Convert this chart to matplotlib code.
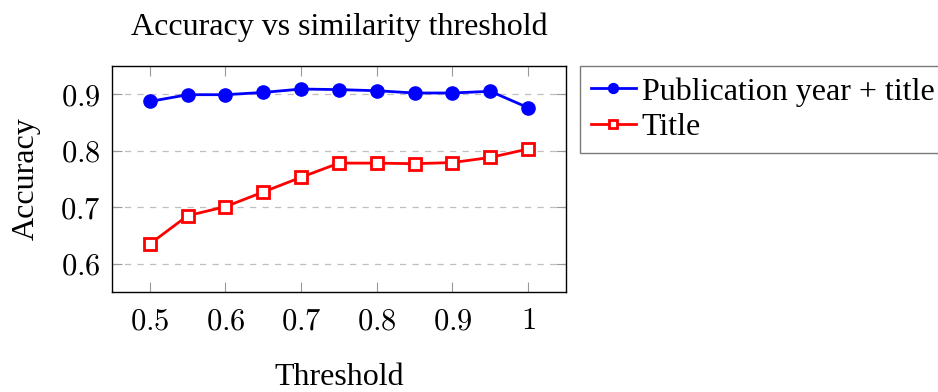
import matplotlib

matplotlib.use("Agg")
import matplotlib.pyplot as plt

thresholds = [0.5, 0.55, 0.6, 0.65, 0.7, 0.75, 0.8, 0.85, 0.9, 0.95, 1.0]
acc_year_title = [0.887, 0.899, 0.899, 0.903, 0.909, 0.908, 0.906, 0.902, 0.902, 0.905, 0.876]
acc_title = [0.635, 0.685, 0.701, 0.727, 0.753, 0.778, 0.778, 0.777, 0.779, 0.788, 0.803]
xticks = [0.5, 0.6, 0.7, 0.8, 0.9, 1.0]
xtick_labels = ["0.5", "0.6", "0.7", "0.8", "0.9", "1"]
yticks = [0.6, 0.7, 0.8, 0.9]
ytick_labels = ["0.6", "0.7", "0.8", "0.9"]

plt.rcParams["font.family"] = ["Liberation Serif", "DejaVu Serif"]
plt.rcParams["mathtext.fontset"] = "cm"

fig = plt.figure(figsize=(9.38, 3.92), dpi=100)
ax = fig.add_axes([0.1194, 0.255, 0.484, 0.577])

ax.plot(thresholds, acc_year_title, color="blue", lw=2.0, marker="o", ms=9.5,
        label="Publication year + title", zorder=3)
ax.plot(thresholds, acc_title, color="red", lw=2.0, marker="s", ms=8.5,
        mfc="white", mew=2.0, label="Title", zorder=3)

ax.set_xlim(0.45, 1.05)
ax.set_ylim(0.55, 0.95)
ax.set_xticks(xticks)
ax.set_xticklabels([f"${t}$" for t in xtick_labels])
ax.set_yticks(yticks)
ax.set_yticklabels([f"${t}$" for t in ytick_labels])
ax.tick_params(direction="in", top=True, right=True, length=7, width=0.8,
               color="0.6", labelsize=22, pad=11)
ax.tick_params(axis="y", pad=8)
ax.grid(axis="y", color="0.75", linestyle=(0, (5, 5)), lw=0.9)
for s in ax.spines.values():
    s.set_linewidth(1.0)

ax.set_title("Accuracy vs similarity threshold", fontsize=23, pad=22)
ax.set_xlabel("Threshold", fontsize=23, labelpad=19)
ax.set_ylabel("Accuracy", fontsize=23, labelpad=14)

leg = ax.legend(loc="upper left", bbox_to_anchor=(1.03, 1.0), fontsize=23,
                frameon=True, fancybox=False, edgecolor="0.35",
                handlelength=1.4, handletextpad=0.2, borderpad=0.35,
                labelspacing=0.2, borderaxespad=0.0, markerscale=0.75)
leg.get_frame().set_linewidth(1.0)

fig.savefig("out.png", dpi=100)
